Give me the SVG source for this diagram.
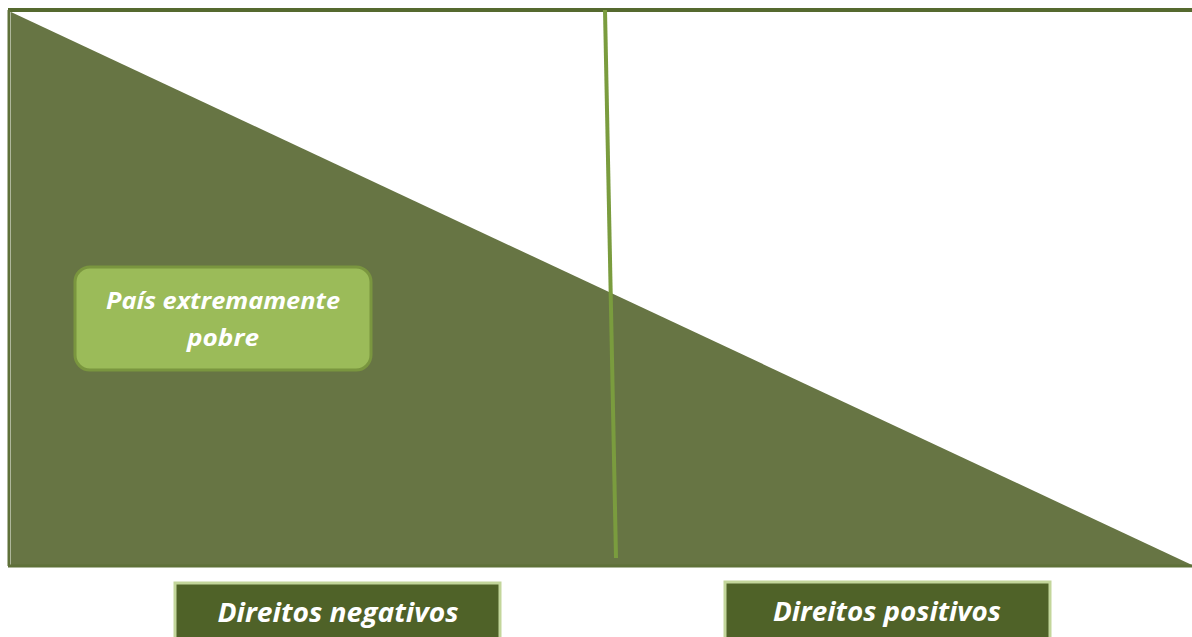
<svg xmlns="http://www.w3.org/2000/svg" width="1192" height="637" viewBox="0 0 1192 637">
<style>
.lbl{font-family:"Open Sans","Liberation Sans",sans-serif;font-weight:bold;font-style:italic;fill:#ffffff;text-anchor:middle}
.frame{stroke:#55692f;stroke-width:4;fill:none}
</style>
<rect width="1192" height="637" fill="#ffffff"/>
<g id="triangle">
<polygon points="11,12 11,565 1192,565" fill="#677544"/>
</g>
<g id="frame">
<line class="frame" x1="8" y1="10" x2="1192" y2="10"/>
<line x1="9" y1="10" x2="9" y2="566" stroke="#5f7139" stroke-width="3"/>
<line x1="8" y1="566" x2="1192" y2="566" stroke="#5f7139" stroke-width="3"/>
</g>
<g id="connectors">
<line x1="605" y1="10" x2="616" y2="558" stroke="#7a9c3e" stroke-width="4"/>
</g>
<g id="pais">
<rect x="75" y="267" width="296" height="103" rx="15" fill="#9bbb59" stroke="#7a963f" stroke-width="3"/>
<text class="lbl" x="223" y="309" font-size="24" textLength="234" lengthAdjust="spacingAndGlyphs">País extremamente</text>
<text class="lbl" x="223" y="346" font-size="24" textLength="72" lengthAdjust="spacingAndGlyphs">pobre</text>
</g>
<g id="negativos">
<rect x="175" y="583" width="325" height="60" fill="#4f6228" stroke="#c3d69b" stroke-width="3"/>
<text class="lbl" x="338" y="622" font-size="27" textLength="241" lengthAdjust="spacingAndGlyphs">Direitos negativos</text>
</g>
<g id="positivos">
<rect x="725" y="582" width="325" height="60" fill="#4f6228" stroke="#c3d69b" stroke-width="3"/>
<text class="lbl" x="887" y="621" font-size="27" textLength="228" lengthAdjust="spacingAndGlyphs">Direitos positivos</text>
</g>
</svg>
